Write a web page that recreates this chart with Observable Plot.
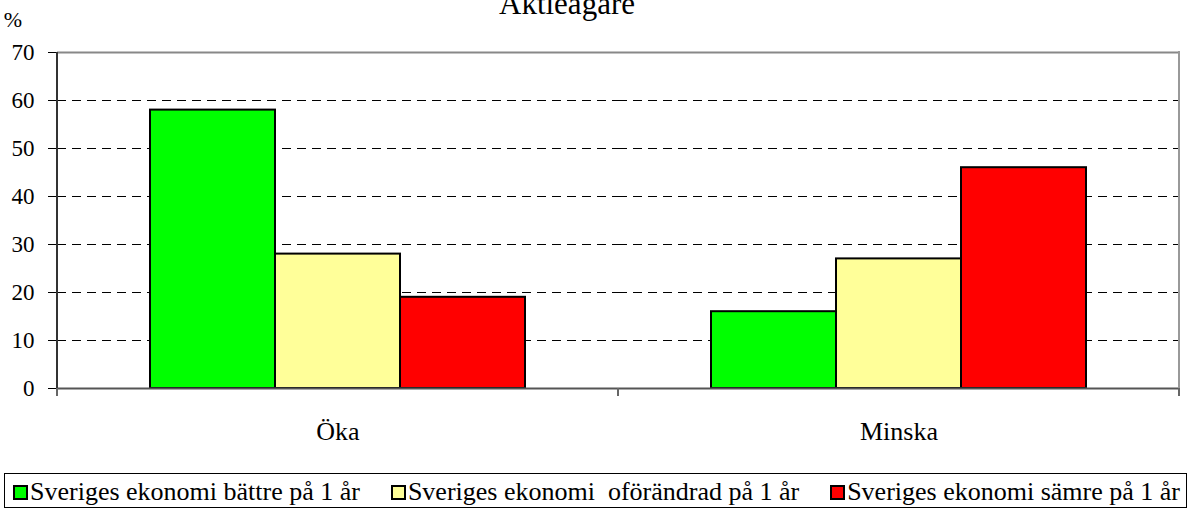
<!DOCTYPE html>
<html>
<head>
<meta charset="utf-8">
<script src="https://cdn.jsdelivr.net/npm/d3@7"></script>
<script src="https://cdn.jsdelivr.net/npm/@observablehq/plot@0.6"></script>
<style>
  html, body { margin: 0; padding: 0; background: #fff; }
  #wrap { position: relative; width: 1199px; height: 508px; overflow: hidden; }
  #chart svg { display: block; }
  #legend { position: absolute; left: 4px; top: 473px; width: 1183px; height: 35px; border: 1px solid #000;
    display: flex; align-items: center; justify-content: space-between; padding: 3px 6px 0 8px; box-sizing: border-box;
    font-size: 26px; color: #000; white-space: pre; }
  .item { display: flex; align-items: center; }
  .sw { width: 11px; height: 11px; border: 2px solid #000; margin-right: 2px; }
</style>
</head>
<body>
<div id="wrap" style="font-family: 'Liberation Serif'">
  <div id="chart"></div>
  <div id="legend" style="font-family: 'Liberation Serif'"></div>
</div>
<script>
const title = "Aktieägare";
const unit = "%";
const categories = ["Öka", "Minska"];
const series = ["Sveriges ekonomi bättre på 1 år", "Sveriges ekonomi  oförändrad på 1 år", "Sveriges ekonomi sämre på 1 år"];
const battre = [58, 16];
const oforandrad = [28, 27];
const samre = [19, 46];
const colors = ["#00FF00", "#FFFF99", "#FF0000"];
const yTicks = [0, 10, 20, 30, 40, 50, 60, 70];
const gridTicks = [10, 20, 30, 40, 50, 60];

const FONT = "Liberation Serif";
const valueLists = [battre, oforandrad, samre];
const data = [];
categories.forEach((c, i) => {
  valueLists.forEach((vals, j) => data.push({category: c, series: series[j], value: vals[i]}));
});

const chart = Plot.plot({
  width: 1199,
  height: 460,
  marginTop: 52,
  marginBottom: 72,
  marginLeft: 57,
  marginRight: 20,
  style: {fontFamily: FONT, fontSize: "23px", background: "white", color: "#000", overflow: "visible"},
  fx: {domain: categories, padding: 0, label: null, axis: "bottom", tickSize: 0, tickPadding: 33},
  x: {domain: series, paddingInner: 0, paddingOuter: 0.744, axis: null},
  y: {domain: [0, 70], ticks: yTicks, tickSize: 9, tickPadding: 14, label: null, tickFormat: d => String(d)},
  color: {domain: series, range: colors},
  marks: [
    Plot.ruleY(gridTicks, {stroke: "#000", strokeDasharray: "9,6", strokeWidth: 1, shapeRendering: "crispEdges"}),
    Plot.barY(data, {fx: "category", x: "series", y: "value", fill: "series", stroke: "#000", strokeWidth: 2}),
    Plot.ruleY([70], {stroke: "#888", strokeWidth: 2}),
    Plot.ruleY([0], {stroke: "#555", strokeWidth: 2})
  ]
});
document.getElementById("chart").appendChild(chart);

// frame lines and category ticks derived from the plot's scales
const svg = d3.select(chart);
const ys = chart.scale("y");
const fxs = chart.scale("fx");
const yTop = ys.apply(70), yBot = ys.apply(0);
const [xl, xr] = fxs.range;
const g = svg.append("g");
g.append("line").attr("x1", xl).attr("x2", xl).attr("y1", yTop).attr("y2", yBot + 8).attr("stroke", "#333").attr("stroke-width", 2);
g.append("line").attr("x1", xr).attr("x2", xr).attr("y1", yTop - 1).attr("y2", yBot).attr("stroke", "#999").attr("stroke-width", 2);
const bounds = categories.map(c => fxs.apply(c)).concat([xr]);
bounds.forEach(b => g.append("line").attr("x1", b).attr("x2", b).attr("y1", yBot).attr("y2", yBot + 8).attr("stroke", "#666").attr("stroke-width", 2));
svg.append("text").attr("x", 567).attr("y", 14).attr("text-anchor", "middle").attr("font-size", 31).attr("fill", "#000").text(title);
svg.append("text").attr("x", 13).attr("y", 27).attr("font-size", 22).attr("fill", "#000").text(unit);

// fx axis labels larger
svg.selectAll('[aria-label^="fx-axis"] text').attr("font-size", 26).style("font-size", "26px");
// serif font on every text
svg.style("font-family", FONT);
svg.selectAll("text").attr("font-family", FONT).style("font-family", FONT);

// legend
const legend = d3.select("#legend");
series.forEach((s, i) => {
  const it = legend.append("div").attr("class", "item");
  it.append("div").attr("class", "sw").style("background", colors[i]);
  it.append("span").style("font-family", FONT).text(s);
});
</script>
</body>
</html>
